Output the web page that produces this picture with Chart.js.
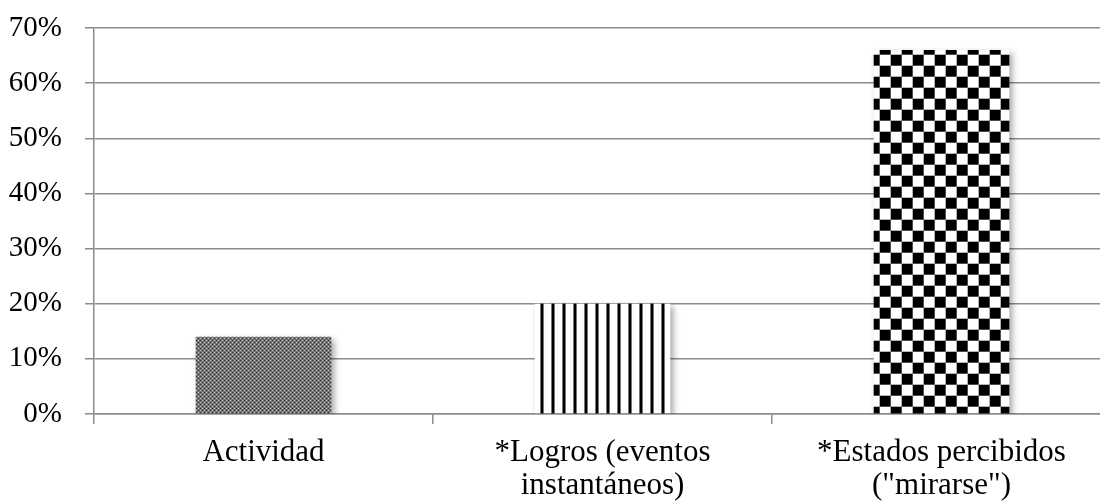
<!DOCTYPE html>
<html>
<head>
<meta charset="utf-8">
<script src="https://cdn.jsdelivr.net/npm/chart.js@4"></script>
<style>
  html, body { margin: 0; padding: 0; background: #fff; overflow: hidden; }
  #wrap { width: 1112px; height: 502px; }
</style>
</head>
<body>
<div id="wrap"><canvas id="barChart" width="1112" height="502"></canvas></div>
<script>
const categories = [
    ["Actividad"],
    ["*Logros (eventos", "instantáneos)"],
    ["*Estados percibidos", "(\"mirarse\")"]
];
const shares = [0.14, 0.20, 0.66];
const yTicks = [0, 0.1, 0.2, 0.3, 0.4, 0.5, 0.6, 0.7];

// small tiles used as bar fills
function makeTile(w, h, paint) {
    const c = document.createElement("canvas");
    c.width = w;
    c.height = h;
    paint(c.getContext("2d"));
    return c.getContext("2d").createPattern(c, "repeat");
}

const ctx = document.getElementById("barChart").getContext("2d");

const finePattern = makeTile(4, 4, g => {
    g.fillStyle = "#747474";
    g.fillRect(0, 0, 4, 4);
    g.fillStyle = "#2e2e2e";
    g.fillRect(0, 0, 1, 1);
    g.fillRect(2, 2, 1, 1);
    g.fillStyle = "#c8c8c8";
    g.fillRect(2, 0, 1, 1);
    g.fillRect(0, 2, 1, 1);
});

const stripePattern = makeTile(11, 4, g => {
    g.fillStyle = "#fff";
    g.fillRect(0, 0, 11, 4);
    g.fillStyle = "#777";
    g.fillRect(1, 0, 1, 4);
    g.fillRect(4, 0, 1, 4);
    g.fillStyle = "#000";
    g.fillRect(2, 0, 2, 4);
});

const checkPattern = makeTile(22, 22, g => {
    g.fillStyle = "#fff";
    g.fillRect(0, 0, 22, 22);
    g.fillStyle = "#000";
    g.fillRect(0, 0, 11, 11);
    g.fillRect(11, 11, 11, 11);
    // soft grey seams between squares
    g.fillStyle = "rgba(128,128,128,0.6)";
    g.fillRect(10, 0, 1, 22);
    g.fillRect(21, 0, 1, 22);
    g.fillRect(0, 10, 22, 1);
    g.fillRect(0, 21, 22, 1);
});

const barShadow = {
    id: "barShadow",
    beforeDatasetsDraw(chart) {
        const c = chart.ctx;
        c.save();
        c.shadowColor = "rgba(0,0,0,0.35)";
        c.shadowBlur = 6;
        c.shadowOffsetX = 3;
        c.shadowOffsetY = 3;
    },
    afterDatasetsDraw(chart) {
        chart.ctx.restore();
    }
};

const serif = "'Liberation Serif', 'Times New Roman', serif";

new Chart(ctx, {
    type: 'bar',
    data: {
        labels: categories,
        datasets: [{
            data: shares,
            backgroundColor: [finePattern, stripePattern, checkPattern],
            borderWidth: 0,
            barPercentage: 0.8,
            categoryPercentage: 0.5
        }]
    },
    options: {
        responsive: false,
        animation: false,
        layout: { padding: { top: 28, right: 1, left: 0, bottom: 0 } },
        plugins: {
            legend: { display: false },
            title: { display: false },
            tooltip: { enabled: false }
        },
        scales: {
            x: {
                offset: true,
                grid: {
                    display: true,
                    drawOnChartArea: false,
                    drawTicks: true,
                    tickLength: 10,
                    color: '#8c8c8c',
                    lineWidth: 1.5
                },
                border: { display: true, color: '#8c8c8c', width: 1.5 },
                ticks: {
                    color: '#000',
                    padding: 13,
                    maxRotation: 0,
                    font: { family: serif, size: 31, lineHeight: 1.04 }
                },
                afterFit: scale => {
                    scale.height = 88;
                    scale.paddingLeft = 0;
                    scale.paddingRight = 0;
                }
            },
            y: {
                min: 0,
                max: 0.7,
                afterBuildTicks: scale => {
                    scale.ticks = yTicks.map(v => ({ value: v }));
                },
                grid: {
                    color: '#8c8c8c',
                    lineWidth: 1.5,
                    tickLength: 9
                },
                border: { display: true, color: '#8c8c8c', width: 1.5 },
                ticks: {
                    color: '#000',
                    padding: 23,
                    font: { family: serif, size: 29 },
                    callback: v => Math.round(v * 100) + '%'
                },
                afterFit: scale => {
                    scale.width = 94;
                    scale.paddingTop = 0;
                    scale.paddingBottom = 0;
                }
            }
        }
    },
    plugins: [barShadow]
});
</script>
</body>
</html>
